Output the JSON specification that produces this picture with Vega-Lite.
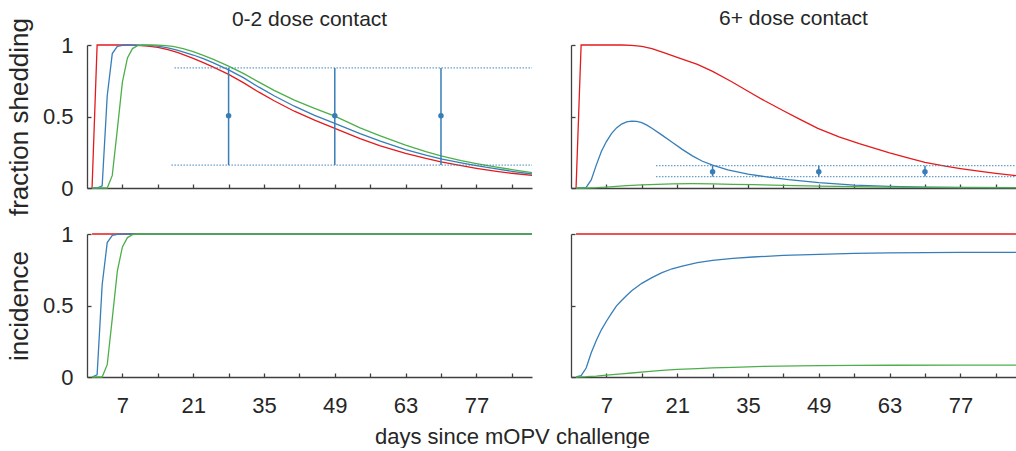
{
  "$schema": "https://vega.github.io/schema/vega-lite/v6.json",
  "background": "white",
  "padding": {"left": 6, "top": 8, "right": 0, "bottom": 0},
  "title": {"text": "days since mOPV challenge", "orient": "bottom", "anchor": "middle", "frame": "bounds", "font": "Liberation Sans", "fontSize": 22, "fontWeight": "normal", "color": "#262626", "baseline": "alphabetic", "offset": 28},
  "config": {
    "view": {"stroke": null},
    "font": "Liberation Sans",
    "axis": {"grid": false, "tickSize": -4, "tickColor": "#404040", "tickWidth": 1.3, "domainColor": "#404040", "domainWidth": 1.3, "labelFont": "Liberation Sans", "labelFontSize": 22, "labelColor": "#262626", "titleFont": "Liberation Sans", "titleFontWeight": "normal", "titleColor": "#262626", "titleFontSize": 26},
    "title": {"font": "Liberation Sans", "fontSize": 21, "fontWeight": "normal", "color": "#262626", "anchor": "middle", "frame": "group", "baseline": "alphabetic"}
  },
  "datasets": {
    "curves": [
      {"panel":"TL","series":"s1","day":1,"value":0},{"panel":"TL","series":"s1","day":2,"value":1},{"panel":"TL","series":"s1","day":3,"value":1},{"panel":"TL","series":"s1","day":4,"value":1},{"panel":"TL","series":"s1","day":5,"value":1},{"panel":"TL","series":"s1","day":6,"value":1},{"panel":"TL","series":"s1","day":7,"value":1},{"panel":"TL","series":"s1","day":8,"value":1},{"panel":"TL","series":"s1","day":9,"value":0.999},{"panel":"TL","series":"s1","day":10,"value":0.997},{"panel":"TL","series":"s1","day":12,"value":0.992},{"panel":"TL","series":"s1","day":14,"value":0.984},{"panel":"TL","series":"s1","day":16,"value":0.968},{"panel":"TL","series":"s1","day":18,"value":0.947},{"panel":"TL","series":"s1","day":21,"value":0.907},{"panel":"TL","series":"s1","day":23,"value":0.877},{"panel":"TL","series":"s1","day":25,"value":0.845},{"panel":"TL","series":"s1","day":28,"value":0.795},{"panel":"TL","series":"s1","day":31,"value":0.735},{"panel":"TL","series":"s1","day":34,"value":0.67},{"panel":"TL","series":"s1","day":37,"value":0.61},{"panel":"TL","series":"s1","day":41,"value":0.537},{"panel":"TL","series":"s1","day":45,"value":0.475},{"panel":"TL","series":"s1","day":49,"value":0.417},{"panel":"TL","series":"s1","day":54,"value":0.345},{"panel":"TL","series":"s1","day":58,"value":0.295},{"panel":"TL","series":"s1","day":63,"value":0.242},{"panel":"TL","series":"s1","day":67,"value":0.207},{"panel":"TL","series":"s1","day":70,"value":0.183},{"panel":"TL","series":"s1","day":74,"value":0.156},{"panel":"TL","series":"s1","day":77,"value":0.138},{"panel":"TL","series":"s1","day":81,"value":0.117},{"panel":"TL","series":"s1","day":84,"value":0.103},{"panel":"TL","series":"s1","day":88,"value":0.088},
      {"panel":"TL","series":"s2","day":1,"value":0},{"panel":"TL","series":"s2","day":2,"value":0},{"panel":"TL","series":"s2","day":3,"value":0.015},{"panel":"TL","series":"s2","day":4,"value":0.645},{"panel":"TL","series":"s2","day":5,"value":0.94},{"panel":"TL","series":"s2","day":6,"value":0.99},{"panel":"TL","series":"s2","day":7,"value":0.998},{"panel":"TL","series":"s2","day":8,"value":1},{"panel":"TL","series":"s2","day":10,"value":1},{"panel":"TL","series":"s2","day":12,"value":0.997},{"panel":"TL","series":"s2","day":14,"value":0.992},{"panel":"TL","series":"s2","day":16,"value":0.98},{"panel":"TL","series":"s2","day":18,"value":0.963},{"panel":"TL","series":"s2","day":21,"value":0.93},{"panel":"TL","series":"s2","day":23,"value":0.904},{"panel":"TL","series":"s2","day":25,"value":0.875},{"panel":"TL","series":"s2","day":28,"value":0.826},{"panel":"TL","series":"s2","day":31,"value":0.77},{"panel":"TL","series":"s2","day":34,"value":0.705},{"panel":"TL","series":"s2","day":37,"value":0.645},{"panel":"TL","series":"s2","day":41,"value":0.572},{"panel":"TL","series":"s2","day":45,"value":0.508},{"panel":"TL","series":"s2","day":49,"value":0.452},{"panel":"TL","series":"s2","day":54,"value":0.38},{"panel":"TL","series":"s2","day":58,"value":0.328},{"panel":"TL","series":"s2","day":63,"value":0.268},{"panel":"TL","series":"s2","day":67,"value":0.23},{"panel":"TL","series":"s2","day":70,"value":0.203},{"panel":"TL","series":"s2","day":74,"value":0.175},{"panel":"TL","series":"s2","day":77,"value":0.156},{"panel":"TL","series":"s2","day":81,"value":0.133},{"panel":"TL","series":"s2","day":84,"value":0.117},{"panel":"TL","series":"s2","day":88,"value":0.098},
      {"panel":"TL","series":"s3","day":1,"value":0},{"panel":"TL","series":"s3","day":2,"value":0},{"panel":"TL","series":"s3","day":3,"value":0},{"panel":"TL","series":"s3","day":4,"value":0},{"panel":"TL","series":"s3","day":5,"value":0.088},{"panel":"TL","series":"s3","day":6,"value":0.41},{"panel":"TL","series":"s3","day":7,"value":0.74},{"panel":"TL","series":"s3","day":8,"value":0.91},{"panel":"TL","series":"s3","day":9,"value":0.975},{"panel":"TL","series":"s3","day":10,"value":0.995},{"panel":"TL","series":"s3","day":11,"value":1},{"panel":"TL","series":"s3","day":13,"value":1},{"panel":"TL","series":"s3","day":15,"value":0.997},{"panel":"TL","series":"s3","day":17,"value":0.99},{"panel":"TL","series":"s3","day":19,"value":0.975},{"panel":"TL","series":"s3","day":21,"value":0.953},{"panel":"TL","series":"s3","day":23,"value":0.928},{"panel":"TL","series":"s3","day":25,"value":0.9},{"panel":"TL","series":"s3","day":28,"value":0.852},{"panel":"TL","series":"s3","day":31,"value":0.8},{"panel":"TL","series":"s3","day":34,"value":0.74},{"panel":"TL","series":"s3","day":37,"value":0.683},{"panel":"TL","series":"s3","day":41,"value":0.615},{"panel":"TL","series":"s3","day":45,"value":0.557},{"panel":"TL","series":"s3","day":49,"value":0.503},{"panel":"TL","series":"s3","day":54,"value":0.42},{"panel":"TL","series":"s3","day":58,"value":0.365},{"panel":"TL","series":"s3","day":63,"value":0.3},{"panel":"TL","series":"s3","day":67,"value":0.255},{"panel":"TL","series":"s3","day":70,"value":0.225},{"panel":"TL","series":"s3","day":74,"value":0.192},{"panel":"TL","series":"s3","day":77,"value":0.171},{"panel":"TL","series":"s3","day":81,"value":0.146},{"panel":"TL","series":"s3","day":84,"value":0.129},{"panel":"TL","series":"s3","day":88,"value":0.108},
      {"panel":"TR","series":"s1","day":1,"value":0},{"panel":"TR","series":"s1","day":2,"value":1},{"panel":"TR","series":"s1","day":4,"value":1},{"panel":"TR","series":"s1","day":6,"value":1},{"panel":"TR","series":"s1","day":8,"value":1},{"panel":"TR","series":"s1","day":10,"value":1},{"panel":"TR","series":"s1","day":12,"value":0.998},{"panel":"TR","series":"s1","day":14,"value":0.99},{"panel":"TR","series":"s1","day":16,"value":0.975},{"panel":"TR","series":"s1","day":18.5,"value":0.945},{"panel":"TR","series":"s1","day":21,"value":0.913},{"panel":"TR","series":"s1","day":25,"value":0.865},{"panel":"TR","series":"s1","day":28,"value":0.815},{"panel":"TR","series":"s1","day":31.7,"value":0.745},{"panel":"TR","series":"s1","day":35,"value":0.677},{"panel":"TR","series":"s1","day":38.3,"value":0.61},{"panel":"TR","series":"s1","day":42,"value":0.54},{"panel":"TR","series":"s1","day":45,"value":0.485},{"panel":"TR","series":"s1","day":48.8,"value":0.417},{"panel":"TR","series":"s1","day":53,"value":0.358},{"panel":"TR","series":"s1","day":57,"value":0.31},{"panel":"TR","series":"s1","day":63,"value":0.246},{"panel":"TR","series":"s1","day":67,"value":0.207},{"panel":"TR","series":"s1","day":70,"value":0.179},{"panel":"TR","series":"s1","day":74,"value":0.153},{"panel":"TR","series":"s1","day":77,"value":0.136},{"panel":"TR","series":"s1","day":81,"value":0.116},{"panel":"TR","series":"s1","day":84,"value":0.102},{"panel":"TR","series":"s1","day":88,"value":0.086},
      {"panel":"TR","series":"s2","day":1,"value":0},{"panel":"TR","series":"s2","day":2,"value":0},{"panel":"TR","series":"s2","day":3,"value":0.005},{"panel":"TR","series":"s2","day":4,"value":0.056},{"panel":"TR","series":"s2","day":5,"value":0.16},{"panel":"TR","series":"s2","day":6,"value":0.255},{"panel":"TR","series":"s2","day":7,"value":0.325},{"panel":"TR","series":"s2","day":8,"value":0.38},{"panel":"TR","series":"s2","day":9,"value":0.42},{"panel":"TR","series":"s2","day":10,"value":0.447},{"panel":"TR","series":"s2","day":11,"value":0.463},{"panel":"TR","series":"s2","day":12,"value":0.468},{"panel":"TR","series":"s2","day":13,"value":0.466},{"panel":"TR","series":"s2","day":14,"value":0.457},{"panel":"TR","series":"s2","day":15,"value":0.44},{"panel":"TR","series":"s2","day":16,"value":0.418},{"panel":"TR","series":"s2","day":18,"value":0.37},{"panel":"TR","series":"s2","day":20,"value":0.32},{"panel":"TR","series":"s2","day":22,"value":0.27},{"panel":"TR","series":"s2","day":24,"value":0.225},{"panel":"TR","series":"s2","day":26,"value":0.187},{"panel":"TR","series":"s2","day":28,"value":0.16},{"panel":"TR","series":"s2","day":31,"value":0.127},{"panel":"TR","series":"s2","day":35,"value":0.097},{"panel":"TR","series":"s2","day":39,"value":0.076},{"panel":"TR","series":"s2","day":43,"value":0.058},{"panel":"TR","series":"s2","day":49,"value":0.037},{"panel":"TR","series":"s2","day":56,"value":0.02},{"panel":"TR","series":"s2","day":63,"value":0.011},{"panel":"TR","series":"s2","day":70,"value":0.006},{"panel":"TR","series":"s2","day":77,"value":0.004},{"panel":"TR","series":"s2","day":88,"value":0.002},
      {"panel":"TR","series":"s3","day":1,"value":0},{"panel":"TR","series":"s3","day":3,"value":0},{"panel":"TR","series":"s3","day":5,"value":0.002},{"panel":"TR","series":"s3","day":7,"value":0.006},{"panel":"TR","series":"s3","day":9,"value":0.011},{"panel":"TR","series":"s3","day":11,"value":0.016},{"panel":"TR","series":"s3","day":14,"value":0.022},{"panel":"TR","series":"s3","day":17,"value":0.026},{"panel":"TR","series":"s3","day":20,"value":0.029},{"panel":"TR","series":"s3","day":24,"value":0.03},{"panel":"TR","series":"s3","day":28,"value":0.029},{"panel":"TR","series":"s3","day":32,"value":0.026},{"panel":"TR","series":"s3","day":36,"value":0.023},{"panel":"TR","series":"s3","day":42,"value":0.018},{"panel":"TR","series":"s3","day":49,"value":0.013},{"panel":"TR","series":"s3","day":56,"value":0.009},{"panel":"TR","series":"s3","day":63,"value":0.006},{"panel":"TR","series":"s3","day":70,"value":0.004},{"panel":"TR","series":"s3","day":77,"value":0.003},{"panel":"TR","series":"s3","day":88,"value":0.002},
      {"panel":"BL","series":"s1","day":1,"value":1},{"panel":"BL","series":"s1","day":88,"value":1},
      {"panel":"BL","series":"s2","day":1,"value":0},{"panel":"BL","series":"s2","day":2,"value":0.015},{"panel":"BL","series":"s2","day":3,"value":0.645},{"panel":"BL","series":"s2","day":4,"value":0.94},{"panel":"BL","series":"s2","day":5,"value":0.99},{"panel":"BL","series":"s2","day":6,"value":0.998},{"panel":"BL","series":"s2","day":7,"value":1},{"panel":"BL","series":"s2","day":88,"value":1},
      {"panel":"BL","series":"s3","day":1,"value":0},{"panel":"BL","series":"s3","day":2,"value":0},{"panel":"BL","series":"s3","day":3,"value":0},{"panel":"BL","series":"s3","day":4,"value":0.086},{"panel":"BL","series":"s3","day":5,"value":0.41},{"panel":"BL","series":"s3","day":6,"value":0.74},{"panel":"BL","series":"s3","day":7,"value":0.91},{"panel":"BL","series":"s3","day":8,"value":0.975},{"panel":"BL","series":"s3","day":9,"value":0.995},{"panel":"BL","series":"s3","day":10,"value":1},{"panel":"BL","series":"s3","day":88,"value":1},
      {"panel":"BR","series":"s1","day":1,"value":1},{"panel":"BR","series":"s1","day":88,"value":1},
      {"panel":"BR","series":"s2","day":1,"value":0},{"panel":"BR","series":"s2","day":2,"value":0.01},{"panel":"BR","series":"s2","day":3,"value":0.063},{"panel":"BR","series":"s2","day":4,"value":0.17},{"panel":"BR","series":"s2","day":5,"value":0.255},{"panel":"BR","series":"s2","day":6,"value":0.33},{"panel":"BR","series":"s2","day":7,"value":0.39},{"panel":"BR","series":"s2","day":8,"value":0.445},{"panel":"BR","series":"s2","day":9,"value":0.497},{"panel":"BR","series":"s2","day":10,"value":0.535},{"panel":"BR","series":"s2","day":11,"value":0.57},{"panel":"BR","series":"s2","day":12,"value":0.603},{"panel":"BR","series":"s2","day":14,"value":0.655},{"panel":"BR","series":"s2","day":16,"value":0.695},{"panel":"BR","series":"s2","day":18,"value":0.73},{"panel":"BR","series":"s2","day":20,"value":0.757},{"panel":"BR","series":"s2","day":22,"value":0.776},{"panel":"BR","series":"s2","day":25,"value":0.8},{"panel":"BR","series":"s2","day":28,"value":0.815},{"panel":"BR","series":"s2","day":32,"value":0.829},{"panel":"BR","series":"s2","day":36,"value":0.839},{"panel":"BR","series":"s2","day":42,"value":0.85},{"panel":"BR","series":"s2","day":49,"value":0.858},{"panel":"BR","series":"s2","day":56,"value":0.864},{"panel":"BR","series":"s2","day":63,"value":0.868},{"panel":"BR","series":"s2","day":70,"value":0.87},{"panel":"BR","series":"s2","day":77,"value":0.871},{"panel":"BR","series":"s2","day":88,"value":0.872},
      {"panel":"BR","series":"s3","day":1,"value":0},{"panel":"BR","series":"s3","day":3,"value":0.002},{"panel":"BR","series":"s3","day":5,"value":0.006},{"panel":"BR","series":"s3","day":7,"value":0.013},{"panel":"BR","series":"s3","day":10,"value":0.022},{"panel":"BR","series":"s3","day":12,"value":0.028},{"panel":"BR","series":"s3","day":15,"value":0.037},{"panel":"BR","series":"s3","day":18,"value":0.046},{"panel":"BR","series":"s3","day":21,"value":0.053},{"panel":"BR","series":"s3","day":25,"value":0.059},{"panel":"BR","series":"s3","day":28,"value":0.064},{"panel":"BR","series":"s3","day":32,"value":0.068},{"panel":"BR","series":"s3","day":38,"value":0.074},{"panel":"BR","series":"s3","day":45,"value":0.078},{"panel":"BR","series":"s3","day":49,"value":0.079},{"panel":"BR","series":"s3","day":56,"value":0.081},{"panel":"BR","series":"s3","day":63,"value":0.082},{"panel":"BR","series":"s3","day":77,"value":0.083},{"panel":"BR","series":"s3","day":88,"value":0.083}
    ],
    "obs": [
      {"panel":"TL","day":28,"mid":0.505,"lo":0.16,"hi":0.84},
      {"panel":"TL","day":49,"mid":0.505,"lo":0.16,"hi":0.84},
      {"panel":"TL","day":70,"mid":0.505,"lo":0.16,"hi":0.84},
      {"panel":"TR","day":28,"mid":0.114,"lo":0.08,"hi":0.156},
      {"panel":"TR","day":49,"mid":0.114,"lo":0.08,"hi":0.156},
      {"panel":"TR","day":70,"mid":0.114,"lo":0.08,"hi":0.156}
    ],
    "bands": [
      {"panel":"TL","start":17.3,"end":88,"level":0.84},
      {"panel":"TL","start":16.7,"end":88,"level":0.16},
      {"panel":"TR","start":16.8,"end":88,"level":0.156},
      {"panel":"TR","start":16.8,"end":88,"level":0.08}
    ]
  },
  "columns": 2,
  "bounds": "flush",
  "spacing": {"row": 46, "column": 39},
  "concat": [
    {
      "width": 445, "height": 143,
      "title": {"text": "0-2 dose contact", "offset": -13},
      "layer": [
        {"data": {"name": "curves"}, "transform": [{"filter": "datum.panel === 'TL'"}],
         "mark": {"type": "line", "strokeWidth": 1.3},
         "encoding": {
           "x": {"field": "day", "type": "quantitative", "scale": {"domain": [0, 88], "nice": false, "zero": false}, "axis": {"values": [7,14,21,28,35,42,49,56,63,70,77,84], "labels": false, "title": null}},
           "y": {"field": "value", "type": "quantitative", "scale": {"domain": [0, 1], "nice": false}, "axis": {"values": [0, 0.5, 1], "format": "~g", "labelPadding": 18, "title": "fraction shedding", "titlePadding": 10}},
           "color": {"field": "series", "type": "nominal", "scale": {"domain": ["s1","s2","s3"], "range": ["#e41a1c","#377eb8","#4daf4a"]}, "legend": null}
         }},
        {"data": {"name": "bands"}, "transform": [{"filter": "datum.panel === 'TL'"}],
         "mark": {"type": "rule", "color": "#377eb8", "strokeWidth": 1.2, "strokeDash": [1.5, 1.5], "opacity": 0.75},
         "encoding": {"x": {"field": "start", "type": "quantitative"}, "x2": {"field": "end"}, "y": {"field": "level", "type": "quantitative"}}},
        {"data": {"name": "obs"}, "transform": [{"filter": "datum.panel === 'TL'"}],
         "mark": {"type": "rule", "color": "#377eb8", "strokeWidth": 1.5},
         "encoding": {"x": {"field": "day", "type": "quantitative"}, "y": {"field": "lo", "type": "quantitative"}, "y2": {"field": "hi"}}},
        {"data": {"name": "obs"}, "transform": [{"filter": "datum.panel === 'TL'"}],
         "mark": {"type": "circle", "color": "#377eb8", "size": 30, "opacity": 1},
         "encoding": {"x": {"field": "day", "type": "quantitative"}, "y": {"field": "mid", "type": "quantitative"}}}
      ]
    },
    {
      "width": 445, "height": 143,
      "title": {"text": "6+ dose contact", "offset": 13},
      "layer": [
        {"data": {"name": "curves"}, "transform": [{"filter": "datum.panel === 'TR'"}],
         "mark": {"type": "line", "strokeWidth": 1.3},
         "encoding": {
           "x": {"field": "day", "type": "quantitative", "scale": {"domain": [0, 88], "nice": false, "zero": false}, "axis": {"values": [7,14,21,28,35,42,49,56,63,70,77,84], "labels": false, "title": null}},
           "y": {"field": "value", "type": "quantitative", "scale": {"domain": [0, 1], "nice": false}, "axis": {"values": [0, 0.5, 1], "labels": false, "title": null}},
           "color": {"field": "series", "type": "nominal", "scale": {"domain": ["s1","s2","s3"], "range": ["#e41a1c","#377eb8","#4daf4a"]}, "legend": null}
         }},
        {"data": {"name": "bands"}, "transform": [{"filter": "datum.panel === 'TR'"}],
         "mark": {"type": "rule", "color": "#377eb8", "strokeWidth": 1.2, "strokeDash": [1.5, 1.5], "opacity": 0.75},
         "encoding": {"x": {"field": "start", "type": "quantitative"}, "x2": {"field": "end"}, "y": {"field": "level", "type": "quantitative"}}},
        {"data": {"name": "obs"}, "transform": [{"filter": "datum.panel === 'TR'"}],
         "mark": {"type": "rule", "color": "#377eb8", "strokeWidth": 1.5},
         "encoding": {"x": {"field": "day", "type": "quantitative"}, "y": {"field": "lo", "type": "quantitative"}, "y2": {"field": "hi"}}},
        {"data": {"name": "obs"}, "transform": [{"filter": "datum.panel === 'TR'"}],
         "mark": {"type": "circle", "color": "#377eb8", "size": 30, "opacity": 1},
         "encoding": {"x": {"field": "day", "type": "quantitative"}, "y": {"field": "mid", "type": "quantitative"}}}
      ]
    },
    {
      "width": 445, "height": 143,
      "data": {"name": "curves"},
      "transform": [{"filter": "datum.panel === 'BL'"}],
      "mark": {"type": "line", "strokeWidth": 1.3},
      "encoding": {
        "x": {"field": "day", "type": "quantitative", "scale": {"domain": [0, 88], "nice": false, "zero": false}, "axis": {"values": [7,14,21,28,35,42,49,56,63,70,77,84], "labelExpr": "datum.value % 14 == 7 ? datum.label : ''", "labelOverlap": false, "labelPadding": 22, "title": null}},
        "y": {"field": "value", "type": "quantitative", "scale": {"domain": [0, 1], "nice": false}, "axis": {"values": [0, 0.5, 1], "format": "~g", "labelPadding": 18, "title": "incidence", "titlePadding": 10}},
        "color": {"field": "series", "type": "nominal", "scale": {"domain": ["s1","s2","s3"], "range": ["#e41a1c","#377eb8","#4daf4a"]}, "legend": null}
      }
    },
    {
      "width": 445, "height": 143,
      "data": {"name": "curves"},
      "transform": [{"filter": "datum.panel === 'BR'"}],
      "mark": {"type": "line", "strokeWidth": 1.3},
      "encoding": {
        "x": {"field": "day", "type": "quantitative", "scale": {"domain": [0, 88], "nice": false, "zero": false}, "axis": {"values": [7,14,21,28,35,42,49,56,63,70,77,84], "labelExpr": "datum.value % 14 == 7 ? datum.label : ''", "labelOverlap": false, "labelPadding": 22, "title": null}},
        "y": {"field": "value", "type": "quantitative", "scale": {"domain": [0, 1], "nice": false}, "axis": {"values": [0, 0.5, 1], "labels": false, "title": null}},
        "color": {"field": "series", "type": "nominal", "scale": {"domain": ["s1","s2","s3"], "range": ["#e41a1c","#377eb8","#4daf4a"]}, "legend": null}
      }
    }
  ]
}
